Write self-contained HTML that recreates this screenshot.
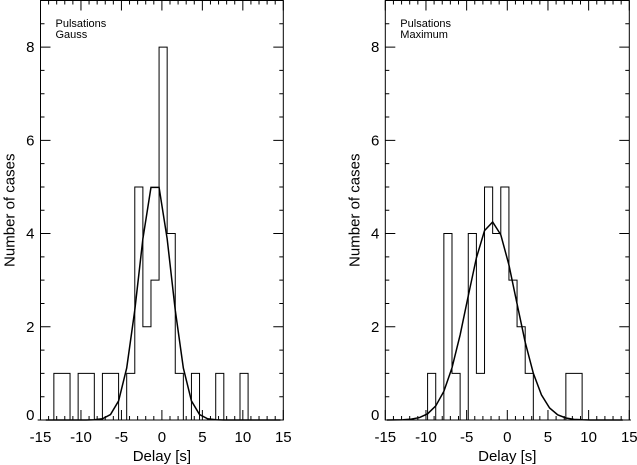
<!DOCTYPE html>
<html><head><meta charset="utf-8"><style>
html,body{margin:0;padding:0;background:#fff;}
svg{display:block;font-family:"Liberation Sans",Helvetica,sans-serif;}
</style></head><body>
<svg id="c" width="637" height="465" viewBox="0 0 637 465"></svg>
<script>
// Left panel data (Gauss)
const leftEdgeStart = -15.35;
const leftCounts = [0,0,1,1,0,1,1,0,1,1,0,1,5,2,3,8,4,1,0,1,0,0,1,0,0,1,0,0,0,0];
const leftFit = [5.15, -0.85, 2.0]; // amplitude, centre, sigma
// Right panel data (Maximum)
const rightEdgeStart = -14.8;
const rightCounts = [0,0,0,0,0,1,0,4,1,0,4,1,5,4,5,3,2,1,0,0,0,0,1,1,0,0,0,0,0,0];
const rightFit = [4.25, -1.9, 3.0];
const xTicks = [-15,-10,-5,0,5,10,15];
const yTicks = [0,2,4,6,8];
const panelLabels = [["Pulsations","Gauss"],["Pulsations","Maximum"]];

const NS="http://www.w3.org/2000/svg";
const svg=document.getElementById('c');
function mk(t,a,p){const e=document.createElementNS(NS,t);for(const k in a)e.setAttribute(k,a[k]);(p||svg).appendChild(e);return e;}

function panel(x0,x1,counts,edgeStart,fit,labels,pname){
  const g=mk('g',{});
  
  
  const yTop=0.5,yBot=420;
  const X=v=>x0+(v+15)/30*(x1-x0);
  const Y=v=>yBot-v/9*(yBot-yTop);
  const fr=mk('rect',{x:x0,y:yTop,width:x1-x0,height:yBot-yTop,fill:'none',stroke:'#000','stroke-width':1},g);
  
  
  let d='';
  for(let v=-15;v<=15;v++){const maj=v%5===0;const L=maj?10:4;const x=X(v);
    d+=`M${x},${yBot}v${-L}M${x},${yTop}v${L}`;}
  for(let v=0;v<=9.001;v+=0.5){const maj=Math.abs(v%2)<1e-6;const L=maj?10:4;const y=Y(v);
    d+=`M${x0},${y}h${L}M${x1},${y}h${-L}`;}
  const tk=mk('path',{d:d,stroke:'#000','stroke-width':1,fill:'none'},g);
  
  
  xTicks.forEach(v=>{const t=mk('text',{x:X(v),y:442,'font-size':15,'text-anchor':'middle'},g);t.textContent=v;
    
    });
  yTicks.forEach(v=>{const yy=v===0?Y(v):Y(v)+5;const t=mk('text',{x:x0-6,y:yy,'font-size':15,'text-anchor':'end'},g);t.textContent=v;
    
    });
  const xt=mk('text',{x:(x0+x1)/2,y:461,'font-size':15,'text-anchor':'middle'},g);xt.textContent='Delay [s]';
  
  
  const yt=mk('text',{x:0,y:0,'font-size':15,'text-anchor':'middle',transform:`translate(${x0-26},${Y(4.5)}) rotate(-90)`},g);yt.textContent='Number of cases';
  
  
  labels.forEach((s,i)=>{const t=mk('text',{x:x0+15,y:27+i*11,'font-size':11},g);t.textContent=s;
    
    });
  let p=`M${X(edgeStart)},${Y(0)}`;
  counts.forEach((c,i)=>{const a=edgeStart+i,b=a+1;p+=`L${X(a)},${Y(c)}L${X(b)},${Y(c)}`;});
  p+=`L${X(edgeStart+counts.length)},${Y(0)}`;
  const h=mk('path',{d:p,fill:'none',stroke:'#000','stroke-width':1},g);
  
  
  let q='';
  for(let i=0;i<=counts.length;i++){const xv=edgeStart+i;if(xv<-15||xv>15)continue;
    const yv=fit[0]*Math.exp(-Math.pow(xv-fit[1],2)/(2*fit[2]*fit[2]));
    q+=(q?'L':'M')+X(xv)+','+Y(yv);}
  const f=mk('path',{d:q,fill:'none',stroke:'#000','stroke-width':1.5},g);
  
  
}
panel(40.5,283.3,leftCounts,leftEdgeStart,leftFit,panelLabels[0],'left-panel-gauss');
panel(385.3,629.3,rightCounts,rightEdgeStart,rightFit,panelLabels[1],'right-panel-maximum');
</script>
</body></html>
